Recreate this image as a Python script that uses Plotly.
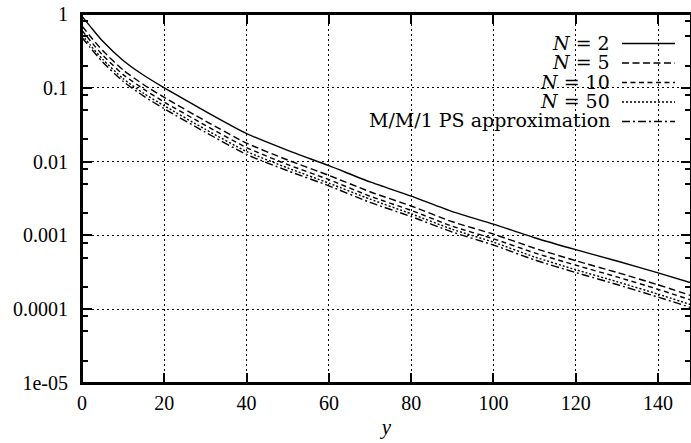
import plotly.graph_objects as go

# ---------------- data ----------------
y_points = [0, 2, 5, 10, 15, 20, 30, 40, 50, 60, 70, 80, 90, 100, 110, 120, 130, 140, 148]

n2 = [0.93, 0.68, 0.43, 0.235, 0.148, 0.100, 0.048, 0.024, 0.0142, 0.0088, 0.0053, 0.0034,
      0.0021, 0.00142, 0.00093, 0.00064, 0.00045, 0.00031, 0.000228]
n5 = [0.69, 0.50, 0.32, 0.174, 0.110, 0.074, 0.0355, 0.0178, 0.0105, 0.0065, 0.0039, 0.0025,
      0.00153, 0.00104, 0.00067, 0.000454, 0.000315, 0.000214, 0.000153]
n10 = [0.60, 0.435, 0.278, 0.151, 0.096, 0.064, 0.031, 0.0155, 0.0091, 0.0057, 0.0034, 0.00218,
       0.00133, 0.00090, 0.00058, 0.000395, 0.000274, 0.000186, 0.000133]
n50 = [0.525, 0.38, 0.244, 0.133, 0.084, 0.057, 0.0273, 0.0137, 0.0082, 0.0051, 0.0031, 0.00196,
       0.00121, 0.00081, 0.00051, 0.000343, 0.000236, 0.000160, 0.000115]
mm1 = [0.48, 0.35, 0.224, 0.122, 0.077, 0.052, 0.025, 0.0125, 0.0075, 0.0047, 0.0028, 0.0018,
       0.00111, 0.00074, 0.000465, 0.000314, 0.000216, 0.000146, 0.000105]

series_names = ["<i>N</i> = 2", "<i>N</i> = 5", "<i>N</i> = 10", "<i>N</i> = 50",
                "M/M/1 PS approximation"]
series_values = [n2, n5, n10, n50, mm1]

x_ticks = [0, 20, 40, 60, 80, 100, 120, 140]
y_ticks = [1e-5, 1e-4, 1e-3, 1e-2, 1e-1, 1]
y_tick_text = ["1e-05", "0.0001", "0.001", "0.01", "0.1", "1"]
y_minor = [m * 10.0 ** e for e in range(-5, 0) for m in (2, 5, 8)]

# ---------------- styling ----------------
dashes = ["solid", "7px,3.5px", "5px,3.5px", "2px,2px", "8px,3px,2px,3px"]

W, H = 691, 443
# plot-area edges in window pixels
PL, PR, PT, PB = 82, 691, 14, 383
L, R, T, B = PL, W - PR, PT, H - PB
PW, PH = W - L - R, H - T - B


def px(x):
    """window pixel x -> paper fraction"""
    return (x - PL) / PW


def py(y):
    """window pixel y -> paper fraction"""
    return (PB - y) / PH


SERIF = "Liberation Serif, Times New Roman, Times, serif"
tick_font = dict(family=SERIF, size=20, color="black")
leg_font = dict(family="DejaVu Serif, serif", size=19, color="black")

fig = go.Figure()
for name, vals, d in zip(series_names, series_values, dashes):
    fig.add_trace(go.Scatter(
        x=y_points, y=vals, mode="lines", name=name, showlegend=False,
        line=dict(color="black", width=1.4, dash=d, shape="spline", smoothing=0.6),
    ))
# empty trace so the top / right frame axes are drawn
fig.add_trace(go.Scatter(x=[None], y=[None], xaxis="x2", yaxis="y2", mode="lines",
                         showlegend=False, hoverinfo="skip"))

shapes = [
    # opaque key background (hides the grid behind the key)
    dict(type="rect", xref="paper", yref="paper", x0=px(378), x1=1.0, y0=py(135), y1=py(16),
         fillcolor="white", line=dict(width=0), layer="between"),
    # plot frame
    dict(type="rect", xref="paper", yref="paper", x0=0, x1=1, y0=0, y1=1,
         fillcolor="rgba(0,0,0,0)", line=dict(color="black", width=2), layer="above"),
]
annotations = []
rows = [42.5, 62, 81.5, 101, 120.5]
for name, d, ry in zip(series_names, dashes, rows):
    annotations.append(dict(
        text=name, xref="paper", yref="paper", x=px(612), y=py(ry),
        xanchor="right", yanchor="middle", showarrow=False, font=leg_font,
    ))
    shapes.append(dict(
        type="line", xref="paper", yref="paper", x0=px(622), x1=px(675),
        y0=py(ry + 1), y1=py(ry + 1), line=dict(color="black", width=1.4, dash=d),
        layer="above",
    ))

frame = dict(
    showline=True, linecolor="black", linewidth=2,
    ticks="inside", ticklen=10, tickwidth=2, tickcolor="black",
    zeroline=False,
)
minor_ticks = dict(tickmode="array", tickvals=y_minor, ticks="inside", ticklen=6,
                   tickwidth=2, tickcolor="black", showgrid=False)
grid = dict(showgrid=True, gridcolor="black", gridwidth=1, griddash="2px,3px",
            tickfont=tick_font, ticklabeloverflow="allow")

fig.update_layout(
    width=W, height=H,
    margin=dict(l=L, r=R, t=T, b=B, pad=0, autoexpand=False),
    paper_bgcolor="white", plot_bgcolor="white",
    xaxis=dict(
        range=[0, 148], tickmode="array", tickvals=x_ticks,
        ticklabelstandoff=1,
        title=dict(text="<i>y</i>", font=dict(family=SERIF, size=21, color="black"),
                   standoff=6),
        **frame, **grid,
    ),
    yaxis=dict(
        type="log", range=[-5, 0], tickmode="array", tickvals=y_ticks, ticktext=y_tick_text,
        ticklabelstandoff=8, minor=minor_ticks,
        **frame, **grid,
    ),
    xaxis2=dict(
        overlaying="x", side="top", anchor="y", range=[0, 148], tickmode="array",
        tickvals=x_ticks, showticklabels=False, showgrid=False, **frame,
    ),
    yaxis2=dict(
        overlaying="y", side="right", anchor="x", type="log", range=[-5, 0],
        tickmode="array", tickvals=y_ticks, showticklabels=False, showgrid=False,
        minor=minor_ticks, **frame,
    ),
    shapes=shapes,
    annotations=annotations,
)

fig.write_html(
    "out.html",
    config={"displayModeBar": False},
    post_script="document.body.style.margin='0';document.body.style.overflow='hidden';",
)
